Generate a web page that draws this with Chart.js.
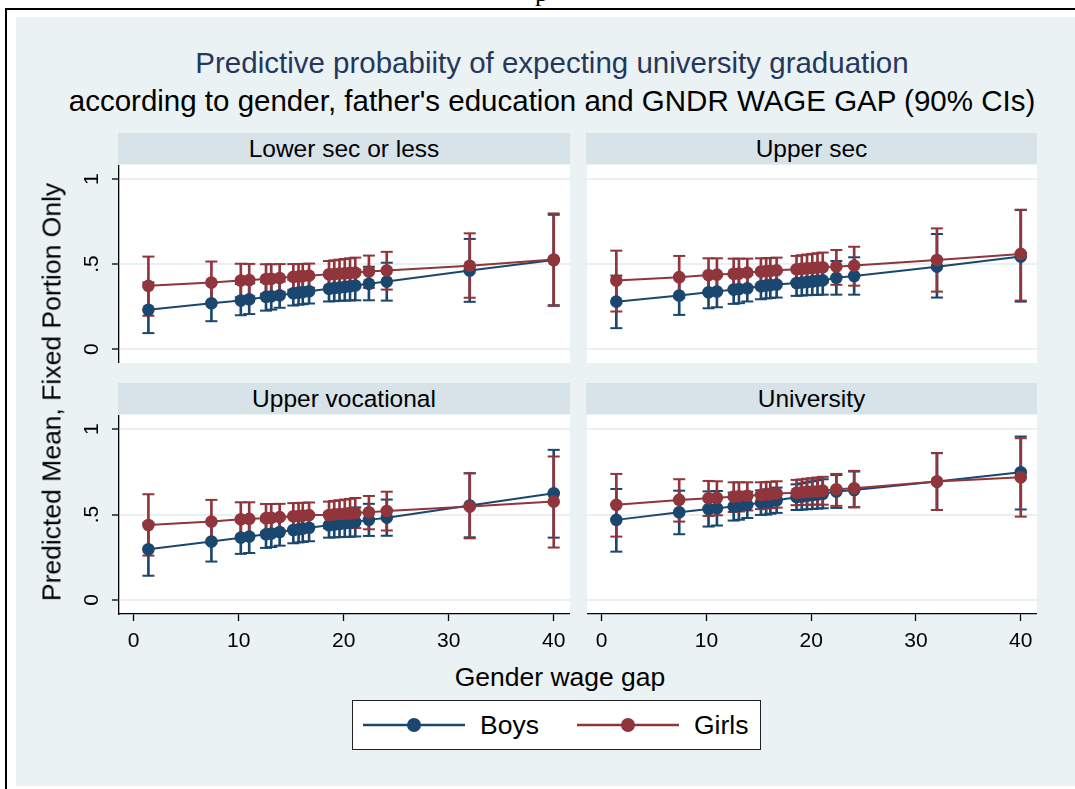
<!DOCTYPE html>
<html>
<head>
<meta charset="utf-8">
<script src="https://cdn.jsdelivr.net/npm/chart.js@4.4.1/dist/chart.umd.min.js"></script>
<style>
  html, body { margin: 0; padding: 0; background: #ffffff; }
  body { width: 1075px; height: 789px; position: relative; overflow: hidden;
         font-family: "Liberation Sans", Arial, Helvetica, sans-serif; color: #000; }
  .abs { position: absolute; }
  #topRule { left: 5px; top: 8px; width: 1070px; height: 2px; background: #000; }
  #leftRule { left: 5px; top: 8px; width: 2px; height: 781px; background: #000; }
  #pageMark { left: 535px; top: -22px; font-family: "Liberation Serif", "Times New Roman", serif;
              font-size: 26px; line-height: 30px; }
  #graphBg { left: 16px; top: 17px; width: 1059px; height: 769px; background: #EAF2F3; }
  .title { left: 0; width: 1104px; text-align: center; font-size: 29.5px; line-height: 34px; white-space: nowrap; }
  #title1 { top: 46px; color: #26375E; }
  #title2 { top: 84px; color: #000; }
  .strip { background: #D8E3E9; font-size: 24.5px; display: flex; align-items: center;
           justify-content: center; white-space: nowrap; }
  #yTitle { left: 52px; top: 392px; font-size: 26.5px; white-space: nowrap;
            transform: translate(-50%, -50%) rotate(-90deg); }
  #xTitle { left: 0; width: 1120px; top: 661px; text-align: center; font-size: 26.5px; line-height: 32px; }
  #legend { left: 352px; top: 700px; width: 407px; height: 48px; background: #fff; border: 1.5px solid #222; }
  .key { position: absolute; top: 0; }
  .keyText { position: absolute; top: 8px; font-size: 26.5px; line-height: 32px; }
  canvas { position: absolute; }
</style>
</head>
<body>
<div class="abs" id="pageMark">p</div>
<div class="abs" id="topRule"></div>
<div class="abs" id="leftRule"></div>
<div class="abs" id="graphBg"></div>

<div class="abs title" id="title1">Predictive probabiity of expecting university graduation</div>
<div class="abs title" id="title2">according to gender, father's education and GNDR WAGE GAP (90% CIs)</div>

<div class="abs strip" style="left:118px;top:133px;width:452px;height:31px;">Lower sec or less</div>
<div class="abs strip" style="left:586px;top:133px;width:451px;height:31px;">Upper sec</div>
<div class="abs strip" style="left:118px;top:383px;width:452px;height:31px;">Upper vocational</div>
<div class="abs strip" style="left:586px;top:383px;width:451px;height:31px;">University</div>

<canvas id="cLower" width="530" height="198" style="left:40px;top:165px;"></canvas>
<canvas id="cUpperSec" width="450" height="198" style="left:587px;top:165px;"></canvas>
<canvas id="cVocational" width="530" height="244" style="left:40px;top:415px;"></canvas>
<canvas id="cUniversity" width="450" height="244" style="left:587px;top:415px;"></canvas>

<div class="abs" id="yTitle">Predicted Mean, Fixed Portion Only</div>
<div class="abs" id="xTitle">Gender wage gap</div>

<div class="abs" id="legend">
  <svg class="key" style="left:10px;top:10px;" width="104" height="28">
    <line x1="0" y1="14" x2="102" y2="14" stroke="#1A476F" stroke-width="2.5"/>
    <circle cx="51" cy="14" r="7" fill="#1A476F"/>
  </svg>
  <div class="keyText" style="left:127px;">Boys</div>
  <svg class="key" style="left:224px;top:10px;" width="104" height="28">
    <line x1="0" y1="14" x2="102" y2="14" stroke="#90353B" stroke-width="2.5"/>
    <circle cx="51" cy="14" r="7" fill="#90353B"/>
  </svg>
  <div class="keyText" style="left:341px;">Girls</div>
</div>

<script>
// Gender wage gap values shared by every panel
const gapValues = [1.4, 7.4, 10.2, 11.0, 12.6, 13.1, 13.9, 15.2, 15.7, 16.1, 16.7,
                   18.6, 19.1, 19.6, 20.1, 20.6, 21.1, 22.4, 24.1, 32.0, 40.0];

// Axis ticks
const xTickValues = [0, 10, 20, 30, 40];
const yTickValues = [0, 0.5, 1];
const yTickLabels = ['0', '.5', '1'];

// Father's education: Lower sec or less
const lowerBoysMean = [0.231, 0.270, 0.286, 0.293, 0.307, 0.311, 0.317, 0.328, 0.332, 0.335, 0.340,
                       0.355, 0.359, 0.362, 0.366, 0.370, 0.374, 0.384, 0.397, 0.462, 0.524];
const lowerBoysLo   = [0.094, 0.164, 0.199, 0.206, 0.226, 0.232, 0.243, 0.256, 0.261, 0.264, 0.268,
                       0.280, 0.282, 0.284, 0.285, 0.286, 0.287, 0.287, 0.285, 0.278, 0.258];
const lowerBoysHi   = [0.392, 0.388, 0.382, 0.387, 0.394, 0.397, 0.398, 0.408, 0.411, 0.414, 0.420,
                       0.435, 0.441, 0.445, 0.452, 0.459, 0.466, 0.484, 0.508, 0.648, 0.790];
const lowerGirlsMean = [0.372, 0.391, 0.403, 0.406, 0.412, 0.414, 0.418, 0.425, 0.427, 0.429, 0.432,
                        0.440, 0.442, 0.444, 0.446, 0.448, 0.450, 0.456, 0.462, 0.490, 0.527];
const lowerGirlsLo   = [0.196, 0.270, 0.305, 0.311, 0.325, 0.329, 0.336, 0.349, 0.354, 0.357, 0.361,
                        0.362, 0.362, 0.362, 0.362, 0.362, 0.362, 0.360, 0.350, 0.302, 0.254];
const lowerGirlsHi   = [0.544, 0.515, 0.502, 0.501, 0.499, 0.499, 0.500, 0.500, 0.500, 0.501, 0.503,
                        0.518, 0.522, 0.526, 0.530, 0.534, 0.538, 0.550, 0.572, 0.681, 0.798];

// Father's education: Upper sec
const upperBoysMean = [0.279, 0.315, 0.334, 0.339, 0.350, 0.353, 0.358, 0.370, 0.374, 0.377, 0.380,
                       0.389, 0.392, 0.395, 0.398, 0.401, 0.404, 0.419, 0.430, 0.485, 0.544];
const upperBoysLo   = [0.123, 0.201, 0.240, 0.246, 0.266, 0.270, 0.280, 0.293, 0.298, 0.300, 0.303,
                       0.313, 0.315, 0.317, 0.318, 0.319, 0.320, 0.320, 0.320, 0.303, 0.279];
const upperBoysHi   = [0.432, 0.430, 0.428, 0.432, 0.434, 0.437, 0.437, 0.447, 0.450, 0.453, 0.457,
                       0.465, 0.470, 0.474, 0.478, 0.483, 0.488, 0.518, 0.540, 0.677, 0.818];
const upperGirlsMean = [0.403, 0.423, 0.436, 0.438, 0.443, 0.445, 0.450, 0.456, 0.459, 0.461, 0.463,
                        0.470, 0.473, 0.475, 0.477, 0.479, 0.481, 0.485, 0.491, 0.524, 0.560];
const upperGirlsLo   = [0.221, 0.300, 0.338, 0.343, 0.354, 0.358, 0.368, 0.378, 0.384, 0.386, 0.388,
                        0.392, 0.392, 0.393, 0.393, 0.392, 0.392, 0.378, 0.373, 0.338, 0.285];
const upperGirlsHi   = [0.579, 0.548, 0.534, 0.534, 0.532, 0.532, 0.532, 0.534, 0.534, 0.536, 0.538,
                        0.548, 0.552, 0.556, 0.560, 0.564, 0.568, 0.583, 0.602, 0.710, 0.820];

// Father's education: Upper vocational
const vocBoysMean = [0.297, 0.342, 0.365, 0.372, 0.385, 0.389, 0.398, 0.410, 0.414, 0.418, 0.423,
                     0.438, 0.442, 0.445, 0.449, 0.453, 0.457, 0.469, 0.482, 0.553, 0.625];
const vocBoysLo   = [0.142, 0.225, 0.270, 0.275, 0.305, 0.310, 0.318, 0.332, 0.337, 0.340, 0.344,
                     0.365, 0.367, 0.368, 0.369, 0.370, 0.372, 0.375, 0.376, 0.367, 0.365];
const vocBoysHi   = [0.452, 0.459, 0.460, 0.469, 0.465, 0.468, 0.478, 0.488, 0.491, 0.496, 0.502,
                     0.511, 0.517, 0.522, 0.529, 0.536, 0.542, 0.563, 0.588, 0.742, 0.879];
const vocGirlsMean = [0.439, 0.459, 0.473, 0.475, 0.479, 0.481, 0.485, 0.490, 0.492, 0.494, 0.497,
                      0.498, 0.501, 0.503, 0.505, 0.507, 0.509, 0.514, 0.521, 0.547, 0.576];
const vocGirlsLo   = [0.260, 0.332, 0.374, 0.378, 0.396, 0.400, 0.407, 0.413, 0.416, 0.419, 0.423,
                      0.420, 0.422, 0.422, 0.422, 0.422, 0.421, 0.414, 0.407, 0.361, 0.307];
const vocGirlsHi   = [0.619, 0.586, 0.572, 0.572, 0.562, 0.562, 0.563, 0.567, 0.568, 0.569, 0.571,
                      0.576, 0.580, 0.584, 0.588, 0.592, 0.597, 0.609, 0.634, 0.742, 0.840];

// Father's education: University
const uniBoysMean = [0.469, 0.514, 0.533, 0.537, 0.547, 0.550, 0.557, 0.570, 0.574, 0.578, 0.584,
                     0.602, 0.606, 0.610, 0.614, 0.618, 0.622, 0.635, 0.644, 0.693, 0.748];
const uniBoysLo   = [0.283, 0.385, 0.430, 0.436, 0.465, 0.470, 0.480, 0.498, 0.500, 0.505, 0.510,
                     0.527, 0.529, 0.531, 0.533, 0.535, 0.537, 0.539, 0.543, 0.527, 0.530];
const uniBoysHi   = [0.650, 0.640, 0.636, 0.638, 0.629, 0.630, 0.634, 0.642, 0.648, 0.651, 0.658,
                     0.677, 0.683, 0.689, 0.695, 0.701, 0.707, 0.732, 0.752, 0.860, 0.957];
const uniGirlsMean = [0.557, 0.586, 0.596, 0.598, 0.605, 0.607, 0.610, 0.615, 0.618, 0.620, 0.624,
                      0.628, 0.630, 0.633, 0.635, 0.637, 0.640, 0.648, 0.654, 0.693, 0.719];
const uniGirlsLo   = [0.371, 0.459, 0.492, 0.496, 0.515, 0.518, 0.524, 0.532, 0.535, 0.538, 0.541,
                      0.555, 0.556, 0.557, 0.558, 0.558, 0.558, 0.551, 0.543, 0.527, 0.488];
const uniGirlsHi   = [0.738, 0.707, 0.697, 0.695, 0.689, 0.689, 0.689, 0.689, 0.690, 0.692, 0.695,
                      0.703, 0.706, 0.710, 0.713, 0.717, 0.721, 0.738, 0.756, 0.860, 0.947];

const NAVY = '#1A476F';
const MAROON = '#90353B';
const FONT = '"Liberation Sans", Arial, Helvetica, sans-serif';

const asPoints = ys => gapValues.map((x, i) => ({ x: x, y: ys[i] }));
const asRanges = (lo, hi) => gapValues.map((x, i) => ({ x: x, y: [lo[i], hi[i]] }));
const asCaps = (lo, hi) => gapValues.flatMap((x, i) => [{ x: x, y: lo[i] }, { x: x, y: hi[i] }]);

// White plot region behind the marks
const plotRegion = {
  id: 'plotRegion',
  beforeDraw(chart) {
    const a = chart.chartArea, ctx = chart.ctx;
    ctx.save();
    ctx.fillStyle = '#ffffff';
    ctx.fillRect(a.left, a.top, a.right - a.left, a.bottom - a.top);
    ctx.restore();
  }
};

function ciSeries(lo, hi, color, order) {
  return [
    { type: 'bar', data: asRanges(lo, hi), backgroundColor: color, borderWidth: 0,
      barThickness: 2, grouped: false, order: order },
    { type: 'scatter', data: asCaps(lo, hi), pointStyle: 'line', pointRadius: 6,
      pointBorderColor: color, pointBorderWidth: 2, borderColor: color, order: order }
  ];
}

function meanSeries(ys, color, label, order) {
  return { type: 'line', label: label, data: asPoints(ys), borderColor: color, borderWidth: 2,
           pointRadius: 6.3, pointBackgroundColor: color, pointBorderWidth: 0,
           tension: 0, fill: false, order: order };
}

function makePanel(id, s, showY, showX) {
  const datasets = [
    meanSeries(s.girlsMean, MAROON, 'Girls', 1),
    meanSeries(s.boysMean, NAVY, 'Boys', 2),
    ...ciSeries(s.girlsLo, s.girlsHi, MAROON, 3),
    ...ciSeries(s.boysLo, s.boysHi, NAVY, 4)
  ];
  return new Chart(document.getElementById(id), {
    type: 'line',
    data: { datasets: datasets },
    plugins: [plotRegion],
    options: {
      responsive: false,
      animation: false,
      devicePixelRatio: 1,
      layout: { autoPadding: false, padding: 0 },
      plugins: { legend: { display: false }, tooltip: { enabled: false }, title: { display: false } },
      scales: {
        x: {
          type: 'linear', min: -1.4, max: 41.55, display: showX, offset: false,
          afterBuildTicks: sc => { sc.ticks = xTickValues.map(v => ({ value: v })); },
          afterFit: sc => { sc.height = showX ? 45 : 0; sc.paddingLeft = 0; sc.paddingRight = 0; },
          border: { display: true, color: '#000', width: 1.3 },
          grid: { offset: false, drawOnChartArea: false, drawTicks: true, tickLength: 7,
                  tickColor: '#000', tickWidth: 1.3 },
          ticks: { color: '#000', padding: 8, maxRotation: 0, autoSkip: false,
                   font: { family: FONT, size: 21 }, callback: v => String(v) }
        },
        y: {
          type: 'linear', min: -0.082, max: 1.083, display: true,
          afterBuildTicks: sc => { sc.ticks = yTickValues.map(v => ({ value: v })); },
          afterFit: sc => { sc.width = showY ? 79 : 0; sc.paddingTop = 0; sc.paddingBottom = 0; },
          border: { display: showY, color: '#000', width: 1.3 },
          grid: { offset: false, color: '#E8F0F2', lineWidth: 2, drawTicks: showY, tickLength: 7,
                  tickColor: '#000', tickWidth: 1.3 },
          ticks: { display: showY, color: '#000', padding: 11, minRotation: 90, maxRotation: 90,
                   crossAlign: 'center', autoSkip: false, font: { family: FONT, size: 21 },
                   callback: v => yTickLabels[yTickValues.indexOf(v)] }
        }
      }
    }
  });
}

makePanel('cLower', { boysMean: lowerBoysMean, boysLo: lowerBoysLo, boysHi: lowerBoysHi,
                      girlsMean: lowerGirlsMean, girlsLo: lowerGirlsLo, girlsHi: lowerGirlsHi }, true, false);
makePanel('cUpperSec', { boysMean: upperBoysMean, boysLo: upperBoysLo, boysHi: upperBoysHi,
                         girlsMean: upperGirlsMean, girlsLo: upperGirlsLo, girlsHi: upperGirlsHi }, false, false);
makePanel('cVocational', { boysMean: vocBoysMean, boysLo: vocBoysLo, boysHi: vocBoysHi,
                           girlsMean: vocGirlsMean, girlsLo: vocGirlsLo, girlsHi: vocGirlsHi }, true, true);
makePanel('cUniversity', { boysMean: uniBoysMean, boysLo: uniBoysLo, boysHi: uniBoysHi,
                           girlsMean: uniGirlsMean, girlsLo: uniGirlsLo, girlsHi: uniGirlsHi }, false, true);
</script>
</body>
</html>
